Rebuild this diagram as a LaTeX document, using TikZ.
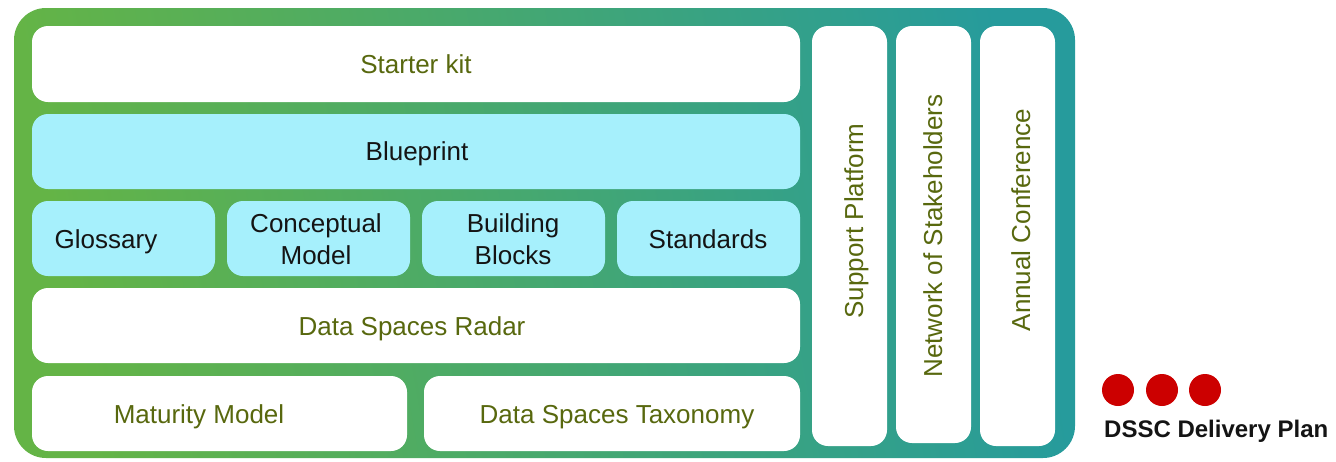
\documentclass[tikz,border=0pt]{standalone}
\usepackage{fontspec}
\setmainfont{Liberation Sans}
\usepackage{tikz}
\usetikzlibrary{positioning}

\definecolor{oliveText}{RGB}{88,104,14}
\definecolor{bpCyan}{RGB}{166,240,252}
\definecolor{frameGreen}{RGB}{100,180,70}
\definecolor{frameTeal}{RGB}{38,155,156}
\definecolor{dotRed}{RGB}{204,0,0}

\begin{document}
\begin{tikzpicture}[
  x=1pt, y=-1pt, % 1 unit = 1 px of the reference, y runs downwards
  frame/.style={rounded corners=32pt, inner sep=0pt, outer sep=0pt, anchor=north west,
                left color=frameGreen, right color=frameTeal, shading angle=100},
  block/.style={rounded corners=16pt, inner sep=0pt, outer sep=0pt, anchor=north west},
  whiteblock/.style={block, fill=white},
  cyanblock/.style={block, fill=bpCyan},
  olivelabel/.style={font=\fontsize{26}{32}\selectfont, text=oliveText, anchor=base,
                     inner sep=0pt, align=center},
  darklabel/.style={olivelabel, text=black!92},
  sidelabel/.style={olivelabel, rotate=90},
  dot/.style={circle, fill=dotRed, minimum size=32pt, inner sep=0pt}
]
  \useasboundingbox (0,0) rectangle (1336,461);

  % block: name, left, top, width, height, style
  \newcommand{\dsblock}[6]{%
    \node[#6, minimum width=#4, minimum height=#5] (#1) at (#2,#3) {};
  }

  % outer frame
  \node[frame, minimum width=1061, minimum height=450] (frame) at (14,8) {};

  % left stack
  \dsblock{starter}{32}{26}{768}{76}{whiteblock}
  \dsblock{blueprint}{32}{114}{768}{75}{cyanblock}
  \foreach \nm/\xx in {glossary/32, concept/227, bblocks/422, standards/617} {
    \dsblock{\nm}{\xx}{201}{183}{75}{cyanblock}
  }
  \dsblock{radar}{32}{288}{768}{75}{whiteblock}
  \dsblock{maturity}{32}{376}{375}{75}{whiteblock}
  \dsblock{taxonomy}{424}{376}{376}{75}{whiteblock}

  % right columns
  \dsblock{support}{812}{26}{75}{420}{whiteblock}
  \dsblock{network}{896}{26}{75}{417}{whiteblock}
  \dsblock{annual}{980}{26}{75}{420}{whiteblock}

  % texts (two-line labels sit on their last baseline)
  \node[olivelabel] (starterT) at (416,73) {Starter kit};
  \node[darklabel] (blueprintT) at (417,160) {Blueprint};
  \node[darklabel] (glossaryT) at (106,248) {Glossary};
  \node[darklabel] (conceptT) at (316,264) {Conceptual\\Model};
  \node[darklabel] (bblocksT) at (513,264) {Building\\Blocks};
  \node[darklabel] (standardsT) at (708,248) {Standards};
  \node[olivelabel] (radarT) at (412,335) {Data Spaces Radar};
  \node[olivelabel] (maturityT) at (199,423) {Maturity Model};
  \node[olivelabel] (taxonomyT) at (617,423) {Data Spaces Taxonomy};
  \node[sidelabel] (supportT) at (863,221) {Support Platform};
  \node[sidelabel] (networkT) at (942,236) {Network of Stakeholders};
  \node[sidelabel] (annualT) at (1030,220) {Annual Conference};

  % delivery plan mark
  \foreach \dx [count=\k] in {1118,1162,1205} {
    \node[dot] (dot\k) at (\dx,390) {};
  }
  \node[anchor=base west, inner sep=0pt, text=black!92,
        font=\bfseries\fontsize{24}{28}\selectfont] (plan) at (1104,437) {DSSC Delivery Plan};
\end{tikzpicture}
\end{document}
